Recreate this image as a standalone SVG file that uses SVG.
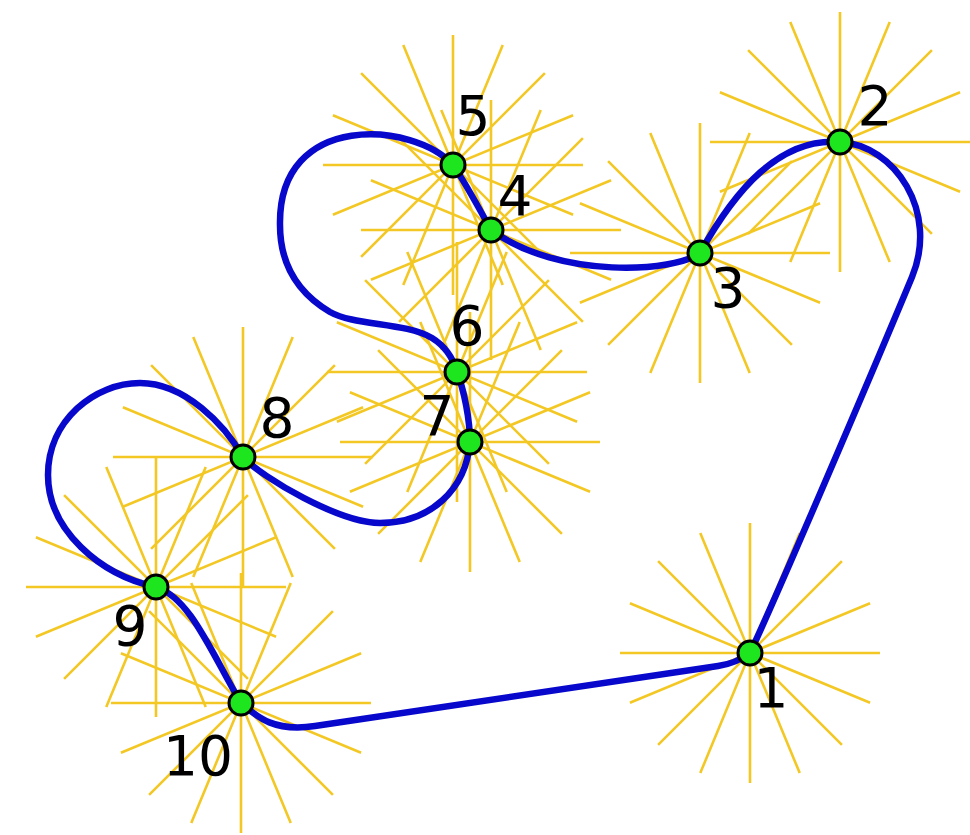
<svg xmlns="http://www.w3.org/2000/svg" xmlns:xlink="http://www.w3.org/1999/xlink" width="970" height="835" viewBox="0 0 970 835">
<style>
.star{fill:none;stroke:#f3c824;stroke-width:2.6}
.curve{fill:none;stroke:#0808cc;stroke-width:6.5;stroke-linejoin:round}
.dot{fill:#1ee61e;stroke:#000;stroke-width:3}
.lbl{font-family:"DejaVu Sans",Verdana,sans-serif;font-size:55px;fill:#000;text-anchor:middle}
</style>
<defs>
<path id="star" class="star" d="M-130,0H130M-120.1,-49.75L120.1,49.75M-91.92,-91.92L91.92,91.92M-49.75,-120.1L49.75,120.1M0,-130V130M49.75,-120.1L-49.75,120.1M91.92,-91.92L-91.92,91.92M120.1,-49.75L-120.1,49.75"/>
</defs>
<rect width="970" height="835" fill="#fff"/>
<g id="stars">
<use xlink:href="#star" href="#star" x="750" y="653"/>
<use xlink:href="#star" href="#star" x="840" y="142"/>
<use xlink:href="#star" href="#star" x="700" y="253"/>
<use xlink:href="#star" href="#star" x="491" y="230"/>
<use xlink:href="#star" href="#star" x="453" y="165"/>
<use xlink:href="#star" href="#star" x="457" y="372"/>
<use xlink:href="#star" href="#star" x="470" y="442"/>
<use xlink:href="#star" href="#star" x="243" y="457"/>
<use xlink:href="#star" href="#star" x="156" y="587"/>
<use xlink:href="#star" href="#star" x="241" y="703"/>
</g>
<g id="connectors">
<path class="curve" d="M750,653 C775,600 870,378 912,277 C939,212 895,145 840,142 C780,137 735,190 700,253 C675,272 560,280 491,230 C480,210 465,182 453,165 C415,122 278,110 280,225 C280,265 298,293 330,312 C355,326 405,322 432,338 C445,346 453,358 457,372 C464,390 470,420 470,442 C466,490 430,523 380,523 C340,523 262,478 243,457 C225,425 185,383 140,383 C95,383 48,420 48,475 C48,530 100,575 156,587 C190,598 210,650 241,703 C258,718 275,732 315,726 L718,666 C732,664 742,659 750,653 Z"/>
</g>
<g id="node1"><circle class="dot" cx="750" cy="653" r="12"/><text class="lbl" x="771" y="707">1</text></g>
<g id="node2"><circle class="dot" cx="840" cy="142" r="12"/><text class="lbl" x="875" y="125">2</text></g>
<g id="node3"><circle class="dot" cx="700" cy="253" r="12"/><text class="lbl" x="728" y="307">3</text></g>
<g id="node4"><circle class="dot" cx="491" cy="230" r="12"/><text class="lbl" x="515" y="215">4</text></g>
<g id="node5"><circle class="dot" cx="453" cy="165" r="12"/><text class="lbl" x="473" y="135">5</text></g>
<g id="node6"><circle class="dot" cx="457" cy="372" r="12"/><text class="lbl" x="467" y="345">6</text></g>
<g id="node7"><circle class="dot" cx="470" cy="442" r="12"/><text class="lbl" x="437" y="435">7</text></g>
<g id="node8"><circle class="dot" cx="243" cy="457" r="12"/><text class="lbl" x="277" y="437">8</text></g>
<g id="node9"><circle class="dot" cx="156" cy="587" r="12"/><text class="lbl" x="130" y="645">9</text></g>
<g id="node10"><circle class="dot" cx="241" cy="703" r="12"/><text class="lbl" x="198" y="775">10</text></g>
</svg>
